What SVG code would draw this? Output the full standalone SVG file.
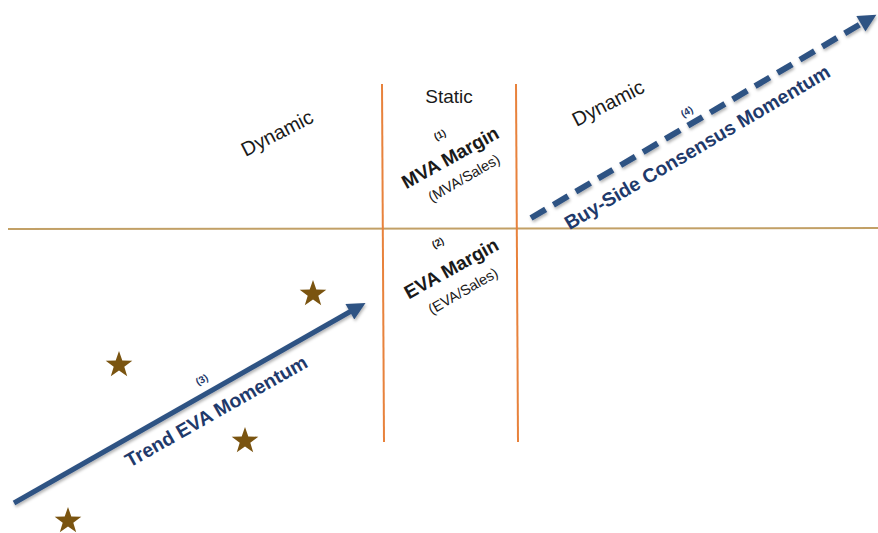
<svg xmlns="http://www.w3.org/2000/svg" width="878" height="533" viewBox="0 0 878 533">
<style>
.lbl{font-family:"Liberation Sans",Arial,sans-serif;fill:#1a1a1a}
.b{font-weight:bold}
.blue{fill:#1f3a6b;font-weight:bold;font-family:"Liberation Sans",Arial,sans-serif}
.star{fill:#7a5410}
</style>
<defs>
<marker id="ah" viewBox="0 0 10 10" refX="2" refY="5" markerWidth="20" markerHeight="18" markerUnits="userSpaceOnUse" orient="auto">
<path d="M0,0 L10,5 L0,10 z" fill="#2f5283"/>
</marker>
<filter id="sh" x="-10%" y="-10%" width="120%" height="130%">
<feDropShadow dx="1" dy="2" stdDeviation="1.5" flood-color="#000" flood-opacity="0.3"/>
</filter>
<polygon id="st" points="0,-14 3.3,-4.5 13.3,-4.3 5.3,1.7 8.2,11.3 0,5.6 -8.2,11.3 -5.3,1.7 -13.3,-4.3 -3.3,-4.5"/>
</defs>
<rect width="878" height="533" fill="#fff"/>
<g id="axes">
<line x1="8" y1="229" x2="878" y2="228" stroke="#c2a066" stroke-width="2"/>
<line x1="382" y1="84" x2="384" y2="442" stroke="#e8823c" stroke-width="2"/>
<line x1="516" y1="84" x2="518" y2="442" stroke="#e8823c" stroke-width="2"/>
</g>
<g id="connectors" filter="url(#sh)">
<line x1="14" y1="503" x2="353" y2="310" stroke="#2f5283" stroke-width="5" marker-end="url(#ah)"/>
<line x1="531" y1="218" x2="864" y2="22" stroke="#2f5283" stroke-width="6" stroke-dasharray="17,9" marker-end="url(#ah)"/>
</g>
<g id="static-label"><text class="lbl" x="449" y="103" font-size="19" text-anchor="middle">Static</text></g>
<g id="dynamic-left"><text class="lbl" font-size="20" text-anchor="middle" transform="translate(277,133) rotate(-27)" y="7">Dynamic</text></g>
<g id="dynamic-right"><text class="lbl" font-size="20" text-anchor="middle" transform="translate(608,103) rotate(-27)" y="7">Dynamic</text></g>
<g id="node1">
<text class="lbl b" font-size="10" text-anchor="middle" transform="translate(440,135) rotate(-27)" y="3">(1)</text>
<text class="lbl b" font-size="19" text-anchor="middle" transform="translate(450,157) rotate(-29)" y="7">MVA Margin</text>
<text class="lbl" font-size="14.5" text-anchor="middle" transform="translate(464,178) rotate(-30)" y="5">(MVA/Sales)</text>
</g>
<g id="node2">
<text class="lbl b" font-size="10" text-anchor="middle" transform="translate(438,243) rotate(-27)" y="3">(2)</text>
<text class="lbl b" font-size="19" text-anchor="middle" transform="translate(451,268) rotate(-29)" y="7">EVA Margin</text>
<text class="lbl" font-size="14.5" text-anchor="middle" transform="translate(463,291) rotate(-30)" y="5">(EVA/Sales)</text>
</g>
<g id="node3">
<text class="blue" font-size="10" text-anchor="middle" transform="translate(202,380) rotate(-29)" y="3">(3)</text>
<text class="blue" font-size="19.5" text-anchor="middle" transform="translate(216,411) rotate(-29.5)" y="7">Trend EVA Momentum</text>
</g>
<g id="node4">
<text class="blue" font-size="10" text-anchor="middle" transform="translate(687,112) rotate(-30)" y="3">(4)</text>
<text class="blue" font-size="19.5" text-anchor="middle" transform="translate(697,147) rotate(-30.5)" y="7">Buy-Side Consensus Momentum</text>
</g>
<g id="stars">
<use href="#st" class="star" x="313" y="294"/>
<use href="#st" class="star" x="119" y="365"/>
<use href="#st" class="star" x="245" y="441"/>
<use href="#st" class="star" x="68" y="521"/>
</g>
</svg>
